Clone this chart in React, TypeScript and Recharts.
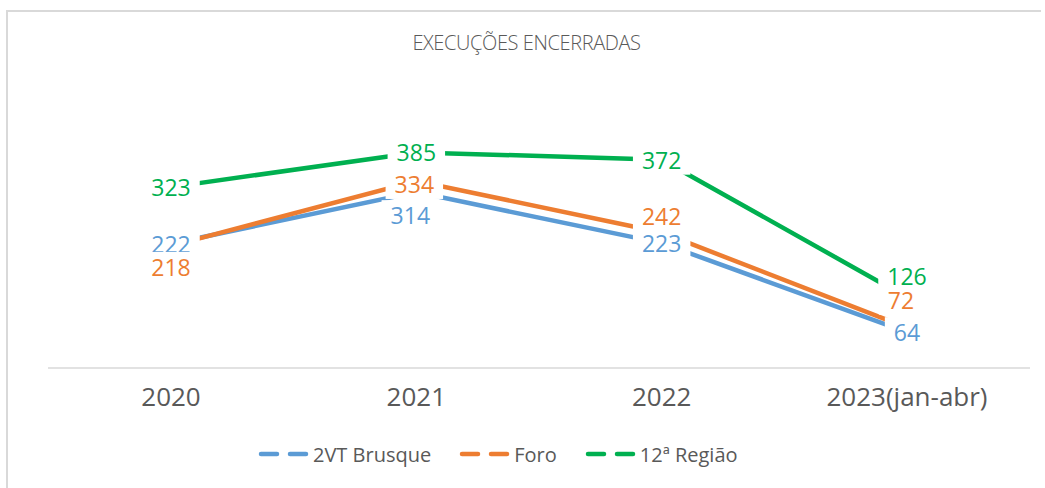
import React from 'react';
import { LineChart, Line, XAxis, YAxis, LabelList } from 'recharts';

const categories = ['2020', '2021', '2022', '2023(jan-abr)'];
const brusque = [222, 314, 223, 64];
const foro = [218, 334, 242, 72];
const regiao = [323, 385, 372, 126];

const series = [
  { key: 'brusque', name: '2VT Brusque', color: '#5B9BD5', values: brusque },
  { key: 'foro', name: 'Foro', color: '#ED7D31', values: foro },
  { key: 'regiao', name: '12ª Região', color: '#00B050', values: regiao },
];

// label nudges (px) relative to each point, like the Excel data label placement
const labelShift: Record<string, { dx: number[]; dy: number[] }> = {
  brusque: { dx: [0, -6, 0, 0], dy: [0, 23, 0, 0] },
  foro: { dx: [0, -2, 0, -6], dy: [21, 3, -16, -28] },
  regiao: { dx: [0, 0, 0, 0], dy: [0, 0, 0, -21] },
};

const FONT = '"Open Sans", "Noto Sans", sans-serif';
const LABEL_SIZE = 23;

const data = categories.map((c, i) => ({
  name: c,
  brusque: brusque[i],
  foro: foro[i],
  regiao: regiao[i],
}));

const makeLabel = (key: string, color: string) => (props: any) => {
  const vb = props.viewBox || {};
  const px = props.x ?? vb.x;
  const py = props.y ?? vb.y;
  const i = props.index ?? 0;
  if (px == null || py == null) return null;
  const cx = px + labelShift[key].dx[i];
  const cy = py + labelShift[key].dy[i];
  const text = String(props.value);
  const w = text.length * LABEL_SIZE * 0.572 + 18;
  const h = 30;
  return (
    <g>
      <rect x={cx - w / 2} y={cy - h / 2} width={w} height={h} fill="#ffffff" />
      <text
        x={cx}
        y={cy}
        textAnchor="middle"
        dominantBaseline="central"
        fill={color}
        fontSize={LABEL_SIZE}
        fontFamily={FONT}
      >
        {text}
      </text>
    </g>
  );
};

const LegendIcon = ({ color }: { color: string }) => (
  <svg width={52} height={10} style={{ display: 'block' }}>
    <line x1={3} y1={5} x2={19} y2={5} stroke={color} strokeWidth={4.5} strokeLinecap="round" />
    <line x1={32} y1={5} x2={48} y2={5} stroke={color} strokeWidth={4.5} strokeLinecap="round" />
  </svg>
);

export default function App() {
  return (
    <div
      style={{
        position: 'absolute',
        left: 0,
        top: 0,
        width: 1045,
        height: 488,
        background: '#ffffff',
        overflow: 'hidden',
        fontFamily: FONT,
      }}
    >
      <div
        style={{
          position: 'absolute',
          left: 6,
          top: 10,
          width: 1035,
          height: 500,
          borderLeft: '2px solid #d9d9d9',
          borderTop: '2px solid #d9d9d9',
          boxSizing: 'border-box',
        }}
      />
      <div
        style={{
          position: 'absolute',
          left: 0,
          top: 29,
          width: 1053,
          textAlign: 'center',
          fontSize: 20,
          fontWeight: 300,
          letterSpacing: -0.4,
          color: '#595959',
          lineHeight: '28px',
        }}
      >
        EXECUÇÕES ENCERRADAS
      </div>
      <div style={{ position: 'absolute', left: 0, top: 0 }}>
        <LineChart
          width={1045}
          height={488}
          data={data}
          margin={{ top: 116, right: 15, bottom: 80, left: 48 }}
        >
          <XAxis
            dataKey="name"
            height={40}
            padding={{ left: 123, right: 123 }}
            axisLine={{ stroke: '#d9d9d9', strokeWidth: 1.5 }}
            tickLine={false}
            tickMargin={14}
            tick={{ fill: '#595959', fontSize: 26, fontFamily: FONT }}
          />
          <YAxis hide domain={[0, 450]} />
          {series.map((s) => (
            <Line
              key={s.key}
              dataKey={s.key}
              name={s.name}
              stroke={s.color}
              strokeWidth={4.5}
              dot={false}
              activeDot={false}
              isAnimationActive={false}
            />
          ))}
          {series.map((s) => (
            <Line
              key={s.key + '-labels'}
              dataKey={s.key}
              stroke="none"
              dot={false}
              activeDot={false}
              legendType="none"
              isAnimationActive={false}
            >
              <LabelList dataKey={s.key} content={makeLabel(s.key, s.color)} />
            </Line>
          ))}
        </LineChart>
      </div>
      <div
        style={{
          position: 'absolute',
          left: 258,
          top: 440,
          display: 'flex',
          alignItems: 'center',
          height: 28,
          color: '#595959',
          fontSize: 20,
        }}
      >
        {series.map((s) => (
          <div key={s.key} style={{ display: 'flex', alignItems: 'center', marginRight: 28 }}>
            <LegendIcon color={s.color} />
            <span style={{ marginLeft: 3 }}>{s.name}</span>
          </div>
        ))}
      </div>
    </div>
  );
}
